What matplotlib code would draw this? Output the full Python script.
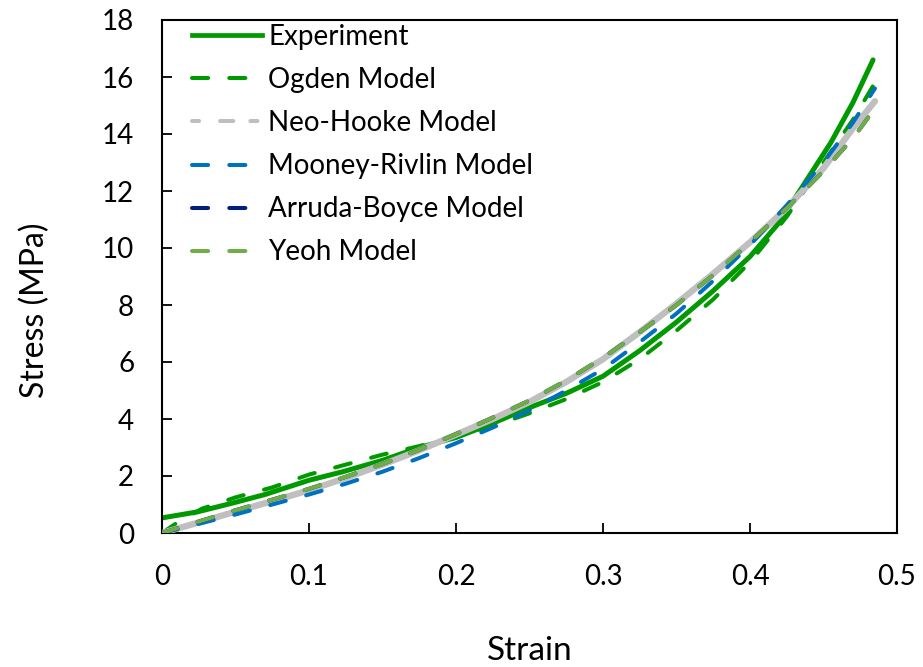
import matplotlib
matplotlib.use("Agg")
import matplotlib.pyplot as plt
from matplotlib.lines import Line2D

plt.rcParams['font.family'] = ['Lato', 'DejaVu Sans']

# ---- data ----
exp_strain = [0.0, 0.024, 0.048, 0.07, 0.1, 0.123, 0.15, 0.175, 0.2, 0.225, 0.25, 0.275, 0.3,
              0.325, 0.35, 0.375, 0.4, 0.42, 0.44, 0.455, 0.47, 0.4837]
exp_stress = [0.53, 0.74, 1.05, 1.35, 1.85, 2.15, 2.55, 3.0, 3.35, 3.85, 4.4, 4.9, 5.5,
              6.4, 7.4, 8.5, 9.7, 10.9, 12.5, 13.7, 15.1, 16.6]

ogden_strain = [0.0, 0.01, 0.027, 0.05, 0.075, 0.1, 0.125, 0.15, 0.175, 0.2, 0.225, 0.25, 0.275,
                0.3, 0.325, 0.35, 0.375, 0.4, 0.425, 0.45, 0.47, 0.485]
ogden_stress = [0.0, 0.35, 0.85, 1.25, 1.6, 2.05, 2.4, 2.75, 3.05, 3.4, 3.75, 4.2, 4.7,
                5.3, 6.1, 7.1, 8.2, 9.5, 11.1, 13.0, 14.5, 15.8]

model_strain = [0.0, 0.025, 0.05, 0.075, 0.1, 0.125, 0.15, 0.175, 0.2, 0.225, 0.25, 0.275, 0.3,
                0.325, 0.35, 0.375, 0.4, 0.425, 0.45, 0.47, 0.485]
neo_stress = [0.0, 0.37, 0.75, 1.12, 1.5, 1.93, 2.4, 2.9, 3.45, 4.0, 4.6, 5.3, 6.1,
              7.05, 8.05, 9.1, 10.2, 11.4, 12.8, 14.2, 15.15]
mooney_stress = [0.0, 0.32, 0.65, 1.0, 1.35, 1.73, 2.15, 2.63, 3.15, 3.7, 4.3, 5.0, 5.75,
                 6.7, 7.7, 8.85, 10.1, 11.5, 13.0, 14.4, 15.6]
arruda_stress = [0.0, 0.4, 0.8, 1.17, 1.55, 1.97, 2.42, 2.92, 3.47, 4.05, 4.65, 5.35, 6.15,
                 7.05, 8.0, 9.05, 10.2, 11.4, 12.7, 13.85, 14.9]
yeoh_stress = [0.0, 0.4, 0.8, 1.17, 1.55, 1.97, 2.42, 2.92, 3.47, 4.05, 4.65, 5.35, 6.15,
               7.05, 8.0, 9.05, 10.2, 11.4, 12.7, 13.85, 14.9]

x_ticks = [0, 0.1, 0.2, 0.3, 0.4, 0.5]
x_ticklabels = ['0', '0.1', '0.2', '0.3', '0.4', '0.5']
y_ticks = [0, 2, 4, 6, 8, 10, 12, 14, 16, 18]

labels = ['Experiment', 'Ogden Model', 'Neo-Hooke Model', 'Mooney-Rivlin Model',
          'Arruda-Boyce Model', 'Yeoh Model']
c_exp = '#009900'
c_neo = '#BFBFBF'
c_moon = '#0070C0'
c_arr = '#002080'
c_yeoh = '#70AD47'

W, H = 923, 667
fig = plt.figure(figsize=(W / 100, H / 100), dpi=100)
ax = fig.add_axes([162 / W, 1 - 533 / H, (897 - 162) / W, (533 - 20) / H])

lw = 2.9
dash = (4.0, 5.25)

ax.plot(exp_strain, exp_stress, color=c_exp, lw=3.6, solid_capstyle='round',
        solid_joinstyle='round', zorder=2)
ax.plot(ogden_strain, ogden_stress, color=c_exp, lw=lw, dashes=dash, dash_capstyle='round', zorder=3)
ax.plot(model_strain, neo_stress, color=c_neo, lw=4.6, solid_capstyle='round',
        solid_joinstyle='round', zorder=4)
ax.plot(model_strain, mooney_stress, color=c_moon, lw=lw, dashes=dash, dash_capstyle='round', zorder=5)
ax.plot(model_strain, arruda_stress, color=c_arr, lw=lw, dashes=dash, dash_capstyle='round', zorder=6)
ax.plot(model_strain, yeoh_stress, color=c_yeoh, lw=lw, dashes=dash, dash_capstyle='round', zorder=7)

ax.set_xlim(0, 0.5)
ax.set_ylim(0, 18)
ax.set_xticks(x_ticks)
ax.set_xticklabels(x_ticklabels)
ax.set_yticks(y_ticks)
ax.tick_params(direction='in', length=7, width=1.3, labelsize=20, colors='black')
ax.tick_params(axis='y', pad=20)
ax.tick_params(axis='x', pad=22)
for s in ax.spines.values():
    s.set_linewidth(1.5)
    s.set_color('black')

fig.text(35 / W, 1 - 310 / H, 'Stress (MPa)', rotation=90, ha='center', va='center', fontsize=23)
fig.text(530 / W, 1 - 651 / H, 'Strain', ha='center', va='center', fontsize=24)

handles = [
    Line2D([], [], color=c_exp, lw=3.4),
    Line2D([], [], color=c_exp, lw=lw, dashes=dash, dash_capstyle='round'),
    Line2D([], [], color=c_neo, lw=lw, dashes=(1.75, 5.25, 3.25, 4.25), dash_capstyle='round'),
    Line2D([], [], color=c_moon, lw=lw, dashes=dash, dash_capstyle='round'),
    Line2D([], [], color=c_arr, lw=lw, dashes=dash, dash_capstyle='round'),
    Line2D([], [], color=c_yeoh, lw=lw, dashes=dash, dash_capstyle='round'),
]
fig.legend(handles, labels, loc='upper left', bbox_to_anchor=(192 / W, 1 - 24 / H),
           frameon=False, fontsize=20, handlelength=2.52, handletextpad=0.22,
           labelspacing=0.615, borderpad=0, borderaxespad=0)

fig.savefig('out.png', dpi=100)
